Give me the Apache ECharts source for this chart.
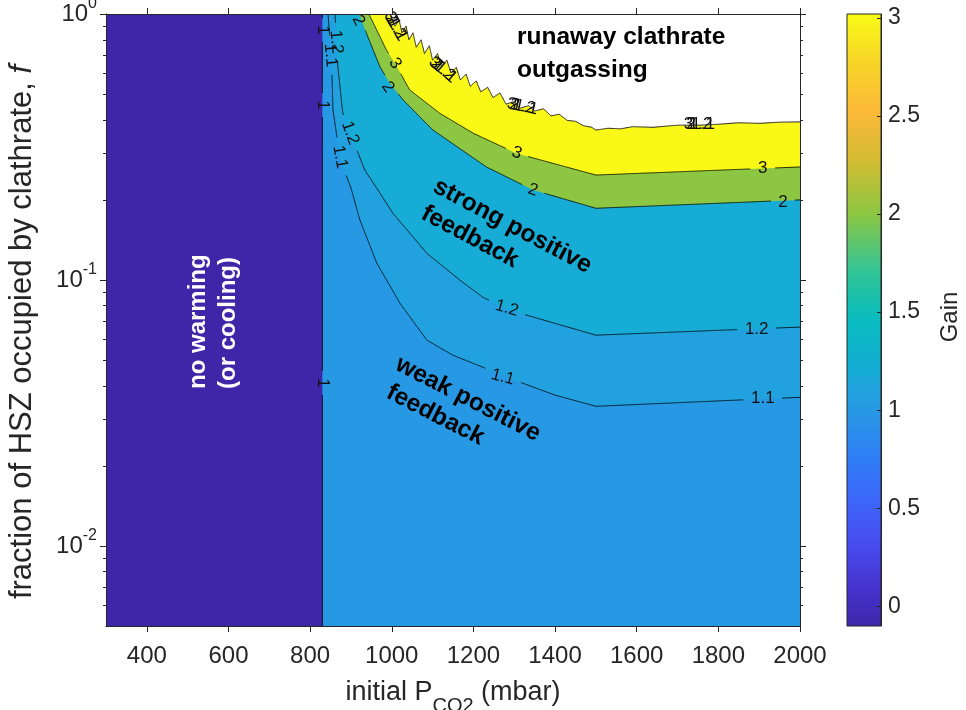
<!DOCTYPE html>
<html>
<head>
<meta charset="utf-8">
<script src="https://cdn.jsdelivr.net/npm/echarts@6.0.0/dist/echarts.min.js"></script>
<style>html,body{margin:0;padding:0;background:#fff;}#chart{width:966px;height:710px;}</style>
</head>
<body>
<div id="chart"></div>
<script>
// ===================== DATA =====================
const xLimits = [300, 2000];            // initial P_CO2 (mbar)
const yLimits = [0.005, 1];             // fraction of HSZ occupied by clathrate (log)
const xTickValues = [400, 600, 800, 1000, 1200, 1400, 1600, 1800, 2000];
const yMajorTickValues = [0.01, 0.1, 1];
const yMinorTickValues = [0.006, 0.007, 0.008, 0.009, 0.02, 0.03, 0.04, 0.05, 0.06, 0.07, 0.08, 0.09,
                          0.2, 0.3, 0.4, 0.5, 0.6, 0.7, 0.8, 0.9];
const gainLimits = [-0.1, 3.02];
const gainTickValues = [0, 0.5, 1, 1.5, 2, 2.5, 3];
const contourLevels = [1, 1.1, 1.2, 2, 3];

// contour lines [P_CO2, f]
const contour_1   = [[830, 1], [830, 0.005]];
const contour_1_1 = [[844, 1.0], [853, 0.632], [856, 0.435], [873, 0.29], [885, 0.255], [900, 0.222],
                     [922, 0.168], [963, 0.116], [1020, 0.0818], [1086, 0.0594], [1150, 0.0521],
                     [1223, 0.047], [1321, 0.0409], [1400, 0.0369], [1500, 0.0335], [2000, 0.0362]];
const contour_1_2 = [[861, 1.0], [868, 0.632], [880, 0.424], [897, 0.357], [916, 0.304], [934, 0.259],
                     [966, 0.218], [1003, 0.178], [1086, 0.126], [1167, 0.0998], [1223, 0.0861],
                     [1282, 0.0783], [1331, 0.0737], [1500, 0.062], [2000, 0.0665]];
const contour_2   = [[920, 1.0], [938, 0.846], [971, 0.633], [995, 0.549], [1028, 0.475], [1101, 0.366],
                     [1160, 0.317], [1232, 0.266], [1346, 0.218], [1500, 0.186], [2000, 0.2]];
const contour_3   = [[944, 1.0], [987, 0.732], [1008, 0.652], [1044, 0.518], [1118, 0.423], [1200, 0.356],
                     [1306, 0.299], [1500, 0.248], [2000, 0.266]];
const contourLines = [contour_1, contour_1_1, contour_1_2, contour_2, contour_3];

// edge of the runaway (no solution) region
const runawayBoundary = [[995, 1.0], [1008, 0.90], [1018, 0.95], [1025, 0.85], [1035, 0.90], [1042, 0.80],
  [1052, 0.85], [1060, 0.75], [1072, 0.80], [1080, 0.71], [1092, 0.76], [1100, 0.67], [1112, 0.71],
  [1122, 0.635], [1135, 0.67], [1145, 0.60], [1158, 0.63], [1168, 0.565], [1182, 0.595], [1192, 0.535],
  [1207, 0.56], [1218, 0.51], [1235, 0.53], [1248, 0.485], [1265, 0.505], [1280, 0.458], [1298, 0.468],
  [1315, 0.443], [1335, 0.452], [1350, 0.432], [1372, 0.44], [1390, 0.414], [1410, 0.42], [1430, 0.398],
  [1450, 0.395], [1470, 0.38], [1490, 0.375], [1500, 0.366], [1530, 0.372], [1560, 0.37], [1590, 0.377],
  [1640, 0.375], [1700, 0.382], [1755, 0.382], [1800, 0.385], [1850, 0.39], [1900, 0.388], [1950, 0.392],
  [2000, 0.393]];

// inline contour labels: [P_CO2, f, text, angle]
const contourLabels = [
  [830, 0.87, '1', -90], [830, 0.455, '1', -90], [830, 0.041, '1', -90],
  [850, 0.70, '1.1', -85], [864, 0.785, '1.2', -85], [918, 0.945, '2', -62],
  [873, 0.29, '1.1', -80], [898, 0.357, '1.2', -70],
  [990, 0.531, '2', -55], [1008, 0.652, '3', -57],
  [1306, 0.300, '3', -20], [1346, 0.218, '2', -18],
  [1282, 0.0783, '1.2', -16], [1272, 0.0431, '1.1', -15],
  [1909, 0.263, '3', 0], [1958, 0.196, '2', 0], [1894, 0.065, '1.2', 0], [1909, 0.0359, '1.1', 0]
];
// piled-up labels on the runaway edge: [P_CO2, f, angle]
const edgeLabelSpots = [[1000, 0.95, -60], [1111, 0.643, -40], [1302, 0.455, -12], [1735, 0.385, 0]];
const edgeLabelTexts = ['3', '2', '1.2', '1.1'];

// ===================== STYLE =====================
const FONT = "'Liberation Sans', Arial, Helvetica, sans-serif";
const AX = '#262626';
const PARULA = [
  [0.000, [62, 38, 168]], [0.060, [70, 50, 205]], [0.130, [72, 74, 238]], [0.200, [62, 100, 250]],
  [0.270, [48, 124, 247]], [0.3526, [39, 153, 228]], [0.3846, [33, 162, 222]], [0.4167, [22, 172, 214]],
  [0.500, [8, 187, 190]], [0.580, [50, 197, 150]], [0.6731, [140, 198, 66]], [0.760, [210, 188, 50]],
  [0.840, [252, 185, 56]], [0.920, [247, 213, 40]], [1.000, [249, 251, 21]]
];
function rgb(c) { return 'rgb(' + c.map(v => Math.round(v)).join(',') + ')'; }
function parula(t) {
  t = Math.max(0, Math.min(1, t));
  for (let i = 1; i < PARULA.length; i++) {
    if (t <= PARULA[i][0]) {
      const t0 = PARULA[i - 1][0], c0 = PARULA[i - 1][1], t1 = PARULA[i][0], c1 = PARULA[i][1];
      const u = (t - t0) / (t1 - t0);
      return rgb(c0.map((v, k) => v + (c1[k] - v) * u));
    }
  }
  return rgb(PARULA[PARULA.length - 1][1]);
}
function gainColor(g) { return parula((g - gainLimits[0]) / (gainLimits[1] - gainLimits[0])); }

const LABEL_FS = 17;
function textWidth(s, fs) { let w = 0; for (const ch of s) w += (ch === '.' ? 0.278 : 0.556); return w * fs; }

// ===================== SERIES =====================
const series = [];
function polygonSeries(pts, color, z) {
  return {
    type: 'custom', xAxisIndex: 0, yAxisIndex: 0, silent: true, z: z, clip: true,
    data: [[xLimits[0], yLimits[1]]],
    renderItem: (params, api) => ({
      type: 'polygon', shape: { points: pts.map(p => api.coord(p)) }, style: { fill: color }
    })
  };
}
function regionAbove(line) {
  const pts = line.slice();
  const last = pts[pts.length - 1];
  if (last[0] < xLimits[1]) pts.push([xLimits[1], last[1]]);
  pts.push([xLimits[1], yLimits[1]]);
  return pts;
}
series.push(polygonSeries([[xLimits[0], yLimits[1]], [xLimits[0], yLimits[0]], [xLimits[1], yLimits[0]], [xLimits[1], yLimits[1]]], gainColor(gainLimits[0]), 1));
contourLevels.forEach((lev, i) => series.push(polygonSeries(regionAbove(contourLines[i]), gainColor(lev), 2 + i)));
series.push(polygonSeries(regionAbove(runawayBoundary), '#ffffff', 8));

function strokeSeries(pts, gapLabels, color, width, z) {
  return {
    type: 'custom', xAxisIndex: 0, yAxisIndex: 0, silent: true, z: z, clip: true,
    data: [[xLimits[0], yLimits[1]]],
    renderItem: (params, api) => {
      const px = pts.map(p => api.coord(p));
      const gaps = gapLabels.map(l => ({ c: api.coord([l[0], l[1]]), r: textWidth(l[2], LABEL_FS) / 2 + 7 }));
      const segs = []; let cur = [];
      for (let i = 0; i < px.length - 1; i++) {
        const a = px[i], b = px[i + 1];
        const n = Math.max(1, Math.ceil(Math.hypot(b[0] - a[0], b[1] - a[1])));
        for (let k = (i === 0 ? 0 : 1); k <= n; k++) {
          const t = k / n;
          const p = [a[0] + (b[0] - a[0]) * t, a[1] + (b[1] - a[1]) * t];
          const inGap = gaps.some(g => Math.hypot(p[0] - g.c[0], p[1] - g.c[1]) < g.r);
          if (inGap) { if (cur.length > 1) segs.push(cur); cur = []; }
          else cur.push(p);
        }
      }
      if (cur.length > 1) segs.push(cur);
      return {
        type: 'group',
        children: segs.map(s => ({ type: 'polyline', shape: { points: s }, style: { stroke: color, lineWidth: width, fill: null } }))
      };
    }
  };
}
contourLevels.forEach((lev, i) => {
  const labs = contourLabels.filter(l => l[2] === String(lev));
  series.push(strokeSeries(contourLines[i], labs, '#000', 0.8, 10));
});
series.push(strokeSeries(runawayBoundary, [], '#222', 1, 10));

series.push({
  type: 'custom', xAxisIndex: 0, yAxisIndex: 0, silent: true, z: 11, clip: false,
  data: contourLabels.map(l => [l[0], l[1]]),
  renderItem: (params, api) => {
    const l = contourLabels[params.dataIndex];
    const c = api.coord([l[0], l[1]]);
    return {
      type: 'text', x: c[0], y: c[1], rotation: l[3] * Math.PI / 180,
      style: { text: l[2], fontSize: LABEL_FS, fontFamily: FONT, fill: '#111',
               align: 'center', verticalAlign: 'middle', textAlign: 'center', textVerticalAlign: 'middle' }
    };
  }
});
series.push({
  type: 'custom', xAxisIndex: 0, yAxisIndex: 0, silent: true, z: 11, clip: false,
  data: edgeLabelSpots.map(l => [l[0], l[1]]),
  renderItem: (params, api) => {
    const s = edgeLabelSpots[params.dataIndex];
    const c = api.coord([s[0], s[1]]);
    return {
      type: 'group', x: c[0], y: c[1], rotation: s[2] * Math.PI / 180,
      children: edgeLabelTexts.map((t, k) => ({
        type: 'text', x: k * 2.5 - 8, y: 0,
        style: { text: t, fontSize: LABEL_FS, fontFamily: FONT, fill: '#111',
                 align: 'left', verticalAlign: 'middle', textAlign: 'left', textVerticalAlign: 'middle' }
      }))
    };
  }
});
const colorbarStops = PARULA.map(s => ({ offset: 1 - s[0], color: rgb(s[1]) })).reverse();
series.push({
  type: 'custom', xAxisIndex: 2, yAxisIndex: 4, silent: true, z: 2, clip: false,
  data: [[0, gainLimits[0]]],
  renderItem: (params, api) => {
    const a = api.coord([0, gainLimits[1]]), b = api.coord([1, gainLimits[0]]);
    return {
      type: 'rect', shape: { x: a[0], y: a[1], width: b[0] - a[0], height: b[1] - a[1] },
      style: { fill: new echarts.graphic.LinearGradient(0, 0, 0, 1, colorbarStops), stroke: AX, lineWidth: 1 }
    };
  }
});

// ===================== AXES =====================
const axisLineStyle = { show: true, onZero: false, lineStyle: { color: AX, width: 1 } };
function powLabel(v) {
  const e = Math.round(Math.log10(v));
  return '{b|10}{s|' + (e === 0 ? '0' : '-' + (-e)) + '}';
}
const TICK_FS = 24;
const option = {
  animation: false,
  backgroundColor: '#ffffff',
  grid: [
    { left: 106, top: 14, width: 694, height: 612, outerBoundsMode: 'none', containLabel: false },
    { left: 847, top: 14, width: 34, height: 612, outerBoundsMode: 'none', containLabel: false }
  ],
  xAxis: [
    { gridIndex: 0, type: 'value', min: xLimits[0], max: xLimits[1], position: 'bottom', z: 30,
      axisLine: axisLineStyle, splitLine: { show: false },
      axisTick: { show: true, length: 6, customValues: xTickValues, lineStyle: { color: AX } },
      axisLabel: { customValues: xTickValues, margin: 18, fontSize: TICK_FS, color: AX, fontFamily: FONT,
                   formatter: v => String(v) },
      name: '{a|initial P}{s|CO2}{a| (mbar)}', nameLocation: 'middle', nameGap: 44,
      nameTextStyle: { rich: {
        a: { fontSize: 27, fontFamily: FONT, color: AX },
        s: { fontSize: 20, fontFamily: FONT, color: AX, padding: [26, 0, 0, 0] } } } },
    { gridIndex: 0, type: 'value', min: xLimits[0], max: xLimits[1], position: 'top', z: 30,
      axisLine: axisLineStyle, splitLine: { show: false },
      axisTick: { show: true, length: 6, customValues: xTickValues, lineStyle: { color: AX } },
      axisLabel: { show: false } },
    { gridIndex: 1, type: 'value', min: 0, max: 1, show: false }
  ],
  yAxis: [
    { gridIndex: 0, type: 'log', logBase: 10, min: yLimits[0], max: yLimits[1], position: 'left', z: 30,
      axisLine: axisLineStyle, splitLine: { show: false },
      axisTick: { show: true, length: 6, customValues: yMajorTickValues, lineStyle: { color: AX } },
      axisLabel: { customValues: yMajorTickValues, margin: 9, formatter: powLabel,
        rich: { b: { fontSize: TICK_FS, fontFamily: FONT, color: AX },
                s: { fontSize: 16, fontFamily: FONT, color: AX, padding: [0, 0, 20, 0] } } },
      name: '{a|fraction of HSZ occupied by clathrate, }{i|f}', nameLocation: 'middle', nameRotate: 90, nameGap: 68,
      nameTextStyle: { padding: [0, 24, 0, 0], rich: {
        a: { fontSize: 31, fontFamily: FONT, color: AX },
        i: { fontSize: 31, fontFamily: FONT, color: AX, fontStyle: 'italic' } } } },
    { gridIndex: 0, type: 'log', logBase: 10, min: yLimits[0], max: yLimits[1], position: 'left', z: 30,
      axisLine: { show: false }, splitLine: { show: false }, axisLabel: { show: false },
      axisTick: { show: true, length: 3, customValues: yMinorTickValues, lineStyle: { color: AX } } },
    { gridIndex: 0, type: 'log', logBase: 10, min: yLimits[0], max: yLimits[1], position: 'right', z: 30,
      axisLine: axisLineStyle, splitLine: { show: false }, axisLabel: { show: false },
      axisTick: { show: true, length: 6, customValues: yMajorTickValues, lineStyle: { color: AX } } },
    { gridIndex: 0, type: 'log', logBase: 10, min: yLimits[0], max: yLimits[1], position: 'right', z: 30,
      axisLine: { show: false }, splitLine: { show: false }, axisLabel: { show: false },
      axisTick: { show: true, length: 3, customValues: yMinorTickValues, lineStyle: { color: AX } } },
    { gridIndex: 1, type: 'value', min: gainLimits[0], max: gainLimits[1], position: 'right', z: 30,
      axisLine: axisLineStyle, splitLine: { show: false },
      axisTick: { show: true, inside: true, length: 4, customValues: gainTickValues, lineStyle: { color: AX } },
      axisLabel: { customValues: gainTickValues, margin: 7, fontSize: 23, color: AX, fontFamily: FONT } }
  ],
  series: series,
  graphic: [
    { type: 'text', x: 517, y: 21, z: 50,
      style: { text: 'runaway clathrate\noutgassing', font: 'bold 24.5px ' + FONT, fill: '#000', lineHeight: 33,
               align: 'left', verticalAlign: 'top', textAlign: 'left', textVerticalAlign: 'top' } },
    { type: 'text', x: 435, y: 185, rotation: -28 * Math.PI / 180, z: 50,
      style: { text: 'strong positive', font: 'bold 24.5px ' + FONT, fill: '#000',
               align: 'left', verticalAlign: 'middle', textAlign: 'left', textVerticalAlign: 'middle' } },
    { type: 'text', x: 423, y: 212, rotation: -28 * Math.PI / 180, z: 50,
      style: { text: 'feedback', font: 'bold 24.5px ' + FONT, fill: '#000',
               align: 'left', verticalAlign: 'middle', textAlign: 'left', textVerticalAlign: 'middle' } },
    { type: 'text', x: 397, y: 363, rotation: -27 * Math.PI / 180, z: 50,
      style: { text: 'weak positive', font: 'bold 24.5px ' + FONT, fill: '#000',
               align: 'left', verticalAlign: 'middle', textAlign: 'left', textVerticalAlign: 'middle' } },
    { type: 'text', x: 388, y: 391, rotation: -27 * Math.PI / 180, z: 50,
      style: { text: 'feedback', font: 'bold 24.5px ' + FONT, fill: '#000',
               align: 'left', verticalAlign: 'middle', textAlign: 'left', textVerticalAlign: 'middle' } },
    { type: 'text', x: 198, y: 389, rotation: Math.PI / 2, z: 50,
      style: { text: 'no warming', font: 'bold 24px ' + FONT, fill: '#ffffff',
               align: 'left', verticalAlign: 'middle', textAlign: 'left', textVerticalAlign: 'middle' } },
    { type: 'text', x: 228, y: 389, rotation: Math.PI / 2, z: 50,
      style: { text: '(or cooling)', font: 'bold 24px ' + FONT, fill: '#ffffff',
               align: 'left', verticalAlign: 'middle', textAlign: 'left', textVerticalAlign: 'middle' } },
    { type: 'text', x: 950, y: 317, rotation: Math.PI / 2, z: 50,
      style: { text: 'Gain', font: '24px ' + FONT, fill: AX,
               align: 'center', verticalAlign: 'middle', textAlign: 'center', textVerticalAlign: 'middle' } }
  ]
};
const chart = echarts.init(document.getElementById('chart'), null, { renderer: 'canvas', width: 966, height: 710 });
chart.setOption(option);
</script>
</body>
</html>
